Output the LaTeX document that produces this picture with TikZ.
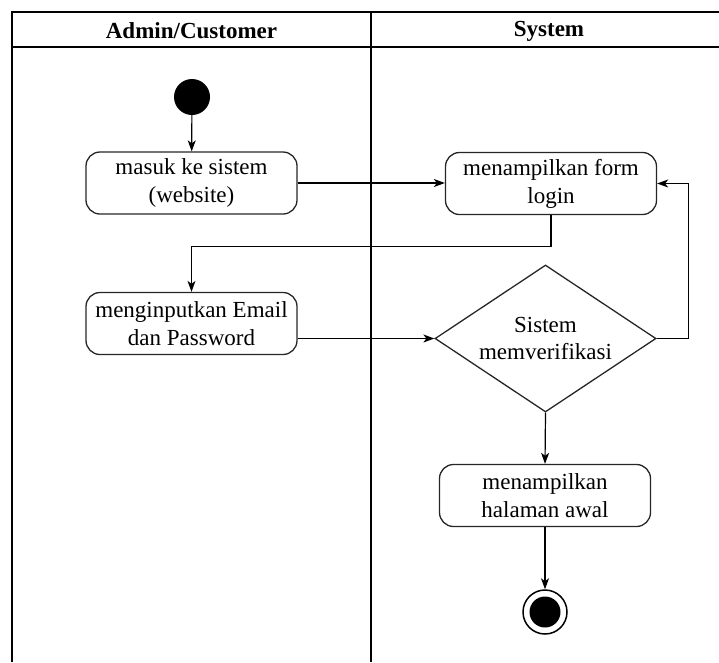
\documentclass[tikz,border=0pt]{standalone}
\usepackage{fontspec}
\setmainfont{Liberation Serif}
\usetikzlibrary{arrows.meta,shapes.geometric}

\begin{document}
\begin{tikzpicture}[x=1pt,y=-1pt,
  lane/.style={draw=black, line width=1.5pt},
  lanetitle/.style={font=\fontsize{23}{28}\selectfont\bfseries, inner sep=0pt},
  act/.style={draw=black!85, line width=1.3pt, rounded corners=14pt,
    minimum width=211pt, minimum height=62pt, align=center, inner sep=0pt,
    font=\fontsize{23}{28}\selectfont},
  decision/.style={draw=black!85, line width=1.3pt, diamond,
    minimum width=221pt, minimum height=147pt, inner sep=0pt},
  label/.style={align=center, inner sep=0pt, font=\fontsize{23}{27}\selectfont},
  flow/.style={draw=black, line width=1.2pt, -{Stealth[length=11pt,width=8pt,inset=3pt]}},
  initial/.style={circle, fill=black, minimum size=36pt, inner sep=0pt},
  final/.style={circle, draw=black, line width=1.5pt, minimum size=44pt, inner sep=0pt}]

\useasboundingbox (0,0) rectangle (719,662);

% swimlane frame
\draw[lane] (12,662) -- (12,12) -- (719,12);
\draw[lane] (12,47) -- (719,47);
\draw[lane] (371,12) -- (371,662);
\node[lanetitle] (laneA) at (191.5,31) {Admin/Customer};
\node[lanetitle] (laneS) at (549,31) {System};

% activities
\node[initial] (start) at (192,97) {};
\node[act] (login) at (191.5,183) {masuk ke sistem\\(website)};
\node[act] (form) at (551,183.5) {menampilkan form\\login};
\node[act] (input) at (191.5,323.5) {menginputkan Email\\dan Password};
\node[decision] (verify) at (545.5,338.5) {};
\node[label] (verifytext) at (verify) {Sistem\\memverifikasi};
\node[act] (home) at (545,495.5) {menampilkan\\halaman awal};
\node[final] (stop) at (545,612) {};
\fill[black] (stop) circle (15.5pt);

% flows
\draw[flow] (start) -- (login);
\draw[flow] (login.east) -- (login.east -| form.west);
\draw[flow] (form.south) -- ++(0,31) -| (input.north);
\draw[flow] (input.east |- verify.west) -- (verify.west);
\draw[flow] (verify.east) -- ++(32,0) |- (form.east);
\draw[flow] (verify.south) -- (home.north);
\draw[flow] (home.south) -- (stop.north);
\end{tikzpicture}
\end{document}
